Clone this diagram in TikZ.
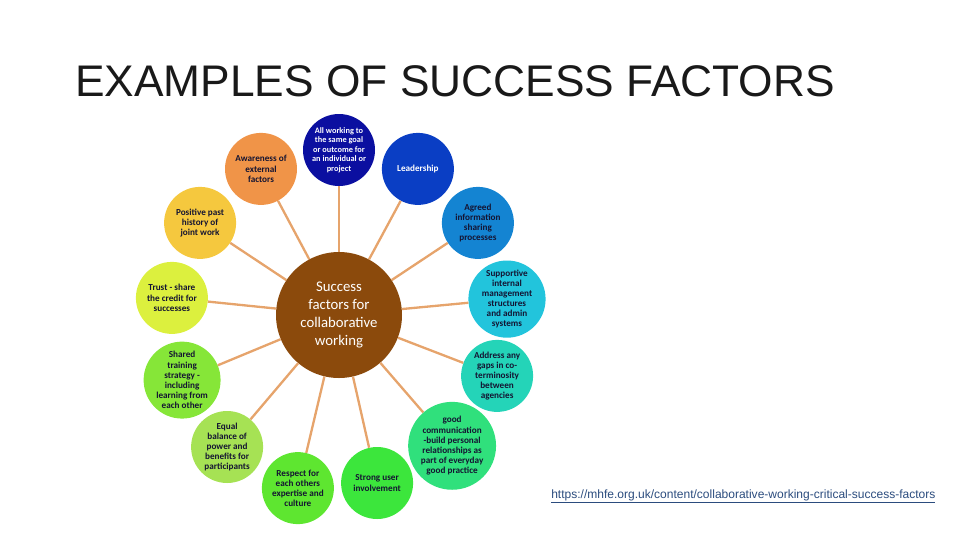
\documentclass[tikz,border=0pt]{standalone}
\usepackage{fontspec}
\setmainfont{Liberation Sans}
\newfontfamily\calibri{Carlito}
\usetikzlibrary{calc}

\definecolor{hubbrown}{HTML}{8B4A0C}
\definecolor{linktan}{HTML}{E6A46C}
\definecolor{inkdark}{HTML}{141432}
\definecolor{urlblue}{HTML}{2B4C7E}
\definecolor{cgoal}{HTML}{0B0FA0}
\definecolor{clead}{HTML}{0A3EC4}
\definecolor{cagreed}{HTML}{1484D2}
\definecolor{csupport}{HTML}{22C4DC}
\definecolor{cgaps}{HTML}{24D4B8}
\definecolor{ccomm}{HTML}{30E07C}
\definecolor{cstrong}{HTML}{3CE63C}
\definecolor{crespect}{HTML}{5EE630}
\definecolor{cequal}{HTML}{A6E254}
\definecolor{cshared}{HTML}{86E638}
\definecolor{ctrust}{HTML}{DCF03E}
\definecolor{cpast}{HTML}{F5C83E}
\definecolor{caware}{HTML}{F09448}

\begin{document}
\begin{tikzpicture}[
    factor/.style={circle, minimum size=2.4cm, inner sep=0pt, align=center,
        text=inkdark, font=\calibri\bfseries\fontsize{8.7}{9.6}\selectfont},
    hub/.style={circle, minimum size=4.2cm, inner sep=0pt, align=center, fill=hubbrown,
        text=white, font=\calibri\fontsize{14}{17.2}\selectfont},
    link/.style={draw=linktan, line width=2.2pt}
]
\useasboundingbox (0,0) rectangle (32,-18);

% title and source
\node[anchor=base west, inner sep=0pt, text=black!90, font=\fontsize{42}{44}\selectfont]
    (title) at (2.5,-3.22) {EXAMPLES OF SUCCESS FACTORS};
\node[anchor=base west, inner sep=0pt, text=urlblue, font=\fontsize{11.4}{13}\selectfont]
    (source) at (18.37,-16.6) {\underline{https://mhfe.org.uk/content/collaborative-working-critical-success-factors}};

% centre
\node[hub] (centre) at (11.3,-10.5) {Success\\factors for\\collaborative\\working};

% factors round the centre
\node[factor, fill=cgoal, text=white, font=\calibri\bfseries\fontsize{7.9}{9}\selectfont]
    (goal) at (11.3,-5.0) {All working to\\the same goal\\or outcome for\\an individual or\\project};
\node[factor, fill=clead, text=white] (lead) at (13.93,-5.63) {Leadership};
\node[factor, fill=cagreed] (agreed) at (15.93,-7.43) {Agreed\\information\\sharing\\processes};
\node[factor, fill=csupport] (support) at (16.9,-9.97) {Supportive\\internal\\management\\structures\\and admin\\systems};
\node[factor, fill=cgaps] (gaps) at (16.57,-12.53) {Address any\\gaps in co-\\terminosity\\between\\agencies};
\node[factor, fill=ccomm, minimum size=2.93cm] (comm) at (15.07,-14.86) {good\\communication\\-build personal\\relationships as\\part of everyday\\good practice};
\node[factor, fill=cstrong] (strong) at (12.57,-16.1) {Strong user\\involvement};
\node[factor, fill=crespect] (respect) at (9.93,-16.27) {Respect for\\each others\\expertise and\\culture};
\node[factor, fill=cequal] (equal) at (7.57,-14.9) {Equal\\balance of\\power and\\benefits for\\participants};
\node[factor, fill=cshared] (shared) at (6.07,-12.67) {Shared\\training\\strategy -\\including\\learning from\\each other};
\node[factor, fill=ctrust] (trust) at (5.73,-9.93) {Trust - share\\the credit for\\successes};
\node[factor, fill=cpast] (past) at (6.67,-7.43) {Positive past\\history of\\joint work};
\node[factor, fill=caware] (aware) at (8.7,-5.63) {Awareness of\\external\\factors};

% spokes
\foreach \f in {goal,lead,agreed,support,gaps,comm,strong,respect,equal,shared,trust,past,aware}
    \draw[link] (centre) -- (\f);
\end{tikzpicture}
\end{document}
